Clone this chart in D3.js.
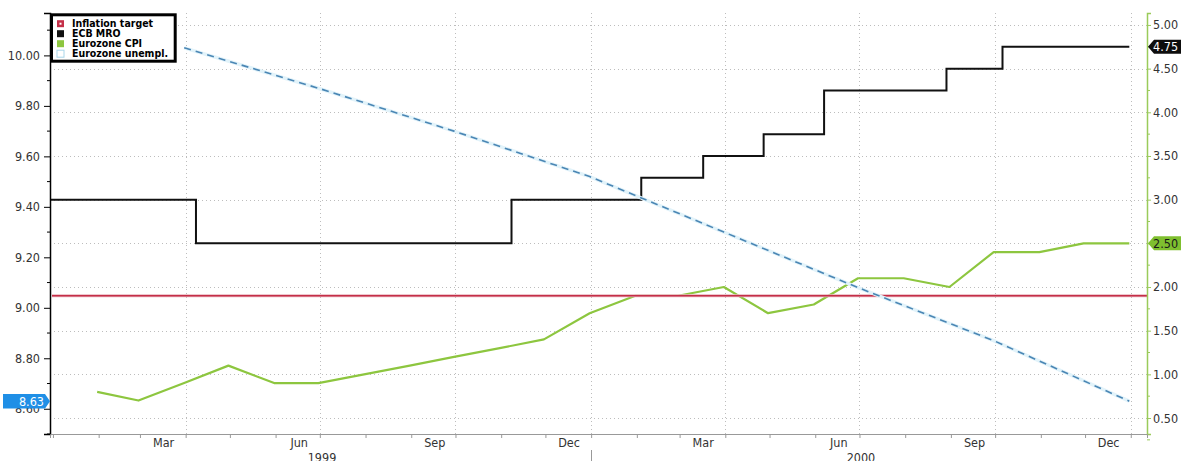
<!DOCTYPE html>
<html><head><meta charset="utf-8">
<script src="https://cdn.jsdelivr.net/npm/d3@7"></script>
<style>
html,body{margin:0;padding:0;background:#fff;overflow:hidden;}
svg{display:block;}
text{font-family:"DejaVu Sans Condensed","DejaVu Sans",sans-serif;font-stretch:condensed;}
</style></head><body>
<svg id="chart" width="1181" height="461"></svg>
<script>
// ---------------- DATA ----------------
const cpiDates = ["1999-01-31","1999-02-28","1999-03-31","1999-04-30","1999-05-31","1999-06-30",
  "1999-07-31","1999-08-31","1999-09-30","1999-10-31","1999-11-30","1999-12-31",
  "2000-01-31","2000-02-29","2000-03-31","2000-04-30","2000-05-31","2000-06-30",
  "2000-07-31","2000-08-31","2000-09-30","2000-10-31","2000-11-30","2000-12-31"];
const cpiValues = [0.8,0.7,0.9,1.1,0.9,0.9, 1.0,1.1,1.2,1.3,1.4,1.7,
  1.9,1.9,2.0,1.7,1.8,2.1, 2.1,2.0,2.4,2.4,2.5,2.5];

const mroDates = ["1998-12-30","1999-04-08","1999-11-08","2000-02-04","2000-03-17",
  "2000-04-27","2000-06-07","2000-08-29","2000-10-06","2000-12-31"];
const mroValues = [3.00,2.50,3.00,3.25,3.50,3.75,4.25,4.50,4.75,4.75];

const unemplDates = ["1999-03-31","1999-06-30","1999-09-30","1999-12-31",
  "2000-03-31","2000-06-30","2000-09-30","2000-12-31"];
const unemplValues = [10.03,9.87,9.70,9.52,9.30,9.08,8.87,8.63];

const inflationTarget = 1.9;

const leftTicks = [8.6,8.8,9.0,9.2,9.4,9.6,9.8,10.0];
const rightTicks = [0.5,1.0,1.5,2.0,2.5,3.0,3.5,4.0,4.5,5.0];
const monthLabels = ["Mar","Jun","Sep","Dec"];
const yearLabels = ["1999","2000"];
const legendLabels = ["Inflation target","ECB MRO","Eurozone CPI","Eurozone unempl."];
const seriesColors = {target:"#c42f48", mro:"#111111", cpi:"#8dc63f", unempl:"#4a86b4"};

// ---------------- SETUP ----------------
const parse = d3.timeParse("%Y-%m-%d");
const svg = d3.select("#chart");
const L = 50, R = 1147, T = 13, B = 434;

const x = d3.scaleTime().domain([parse("1998-12-30"), parse("2001-01-12")]).range([L, R]);
const yL = d3.scaleLinear().domain([8.5, 10.168]).range([B, T]);
const yR = d3.scaleLinear().domain([0.317, 5.137]).range([B, T]);

const cpi = cpiDates.map((d,i)=>({date:parse(d), v:cpiValues[i]}));
const mro = mroDates.map((d,i)=>({date:parse(d), v:mroValues[i]}));
const unempl = unemplDates.map((d,i)=>({date:parse(d), v:unemplValues[i]}));

// ---------------- GRID ----------------
const grid = svg.append("g");
grid.selectAll("line.h").data(rightTicks).enter().append("line")
  .attr("x1", L).attr("x2", R).attr("y1", d=>Math.round(yR(d))+0.5).attr("y2", d=>Math.round(yR(d))+0.5)
  .attr("stroke", "#bdbdbd").attr("stroke-width", 1).attr("stroke-dasharray", "1,3");
const quarters = d3.timeMonth.every(3).range(parse("1999-02-01"), x.domain()[1]);
grid.selectAll("line.v").data(quarters).enter().append("line")
  .attr("x1", d=>Math.round(x(d))+0.5).attr("x2", d=>Math.round(x(d))+0.5).attr("y1", T).attr("y2", B)
  .attr("stroke", "#bdbdbd").attr("stroke-width", 1).attr("stroke-dasharray", "1,3");

// ---------------- SERIES ----------------
const lineCpi = d3.line().x(d=>x(d.date)).y(d=>yR(d.v));
svg.append("path").datum(cpi).attr("d", lineCpi)
  .attr("fill","none").attr("stroke", seriesColors.cpi).attr("stroke-width", 2.2).attr("stroke-linejoin","round");

svg.append("line").attr("x1", x.range()[0]+2).attr("x2", x.range()[1])
  .attr("y1", yR(inflationTarget)).attr("y2", yR(inflationTarget))
  .attr("stroke", "#eab3bd").attr("stroke-width", 3);
svg.append("line").attr("x1", x.range()[0]+2).attr("x2", x.range()[1])
  .attr("y1", yR(inflationTarget)).attr("y2", yR(inflationTarget))
  .attr("stroke", seriesColors.target).attr("stroke-width", 1.5);

const lineMro = d3.line().x(d=>x(d.date)).y(d=>yR(d.v)).curve(d3.curveStepAfter);
svg.append("path").datum(mro).attr("d", lineMro)
  .attr("fill","none").attr("stroke", seriesColors.mro).attr("stroke-width", 2);

const lineU = d3.line().x(d=>x(d.date)).y(d=>yL(d.v));
svg.append("path").datum(unempl).attr("d", lineU)
  .attr("fill","none").attr("stroke", "#e2f3fa").attr("stroke-width", 3.5);
svg.append("path").datum(unempl).attr("d", lineU)
  .attr("fill","none").attr("stroke", seriesColors.unempl).attr("stroke-width", 1.6)
  .attr("stroke-dasharray","7,5");

// ---------------- AXES ----------------
const fmt = d3.format(".2f");
// left
const gl = svg.append("g").attr("transform", `translate(${L},0)`);
gl.call(d3.axisLeft(yL).tickValues(leftTicks).tickSize(6).tickPadding(4).tickFormat(fmt));
const leftMinor = leftTicks.map(t=>+(t+0.1).toFixed(2)).concat([8.5]);
gl.call(g=>g.selectAll(".minor").data(leftMinor).enter().append("line").attr("class","minor")
  .attr("x1",-3).attr("x2",0).attr("y1",d=>yL(d)).attr("y2",d=>yL(d)).attr("stroke","#000"));
gl.select(".domain").attr("stroke","#000").attr("stroke-width",1.5);
gl.selectAll(".tick line").attr("stroke","#000");
gl.selectAll(".tick text").attr("fill","#333").style("font-size","12.5px");

// right
const gr = svg.append("g").attr("transform", `translate(${R},0)`);
gr.call(d3.axisRight(yR).tickValues(rightTicks).tickSize(4).tickPadding(2).tickFormat(fmt));
const rightMinor = rightTicks.map(t=>t-0.25);
gr.call(g=>g.selectAll(".minor").data(rightMinor).enter().append("line").attr("class","minor")
  .attr("x1",0).attr("x2",3).attr("y1",d=>yR(d)).attr("y2",d=>yR(d)).attr("stroke","#9acb5a"));
gr.select(".domain").attr("stroke","#9acb5a").attr("stroke-width",1.5);
gr.selectAll(".tick line").attr("stroke","#9acb5a");
gr.selectAll(".tick text").attr("fill","#333").style("font-size","12.5px");

// bottom
const gb = svg.append("g").attr("transform", `translate(0,${B})`);
gb.call(d3.axisBottom(x).ticks(d3.timeMonth.every(1)).tickSize(4).tickFormat(""));
gb.select(".domain").attr("stroke","#999");
gb.selectAll(".tick line").attr("stroke","#999");

const months = d3.timeMonth.range(x.domain()[0], x.domain()[1])
  .filter(d=>monthLabels.includes(d3.timeFormat("%b")(d)));
svg.append("g").selectAll("text").data(months).enter().append("text")
  .attr("x", d=>x(new Date(d.getFullYear(), d.getMonth(), 17)))
  .attr("y", 447).attr("text-anchor","middle").attr("fill","#333").style("font-size","12.5px")
  .text(d=>d3.timeFormat("%b")(d));

const years = yearLabels.map(y=>{
  const s = Math.max(x(new Date(+y,0,1)), x.range()[0]);
  const e = Math.min(x(new Date(+y+1,0,1)), x.range()[1]);
  return {y, c:(s+e)/2};
});
svg.append("g").selectAll("text").data(years).enter().append("text")
  .attr("x", d=>d.c).attr("y", 462).attr("text-anchor","middle").attr("fill","#333")
  .style("font-size","12.5px").text(d=>d.y);
const yb = yearLabels.slice(1).map(y=>new Date(+y,0,1));
svg.append("g").selectAll("line").data(yb).enter().append("line")
  .attr("x1", d=>Math.round(x(d))+0.5).attr("x2", d=>Math.round(x(d))+0.5).attr("y1", 450).attr("y2", 461)
  .attr("stroke","#999");

// ---------------- VALUE BOXES ----------------
function rightBox(v, fill, txtColor){
  const cy = yR(v), h = 7, tip = R + 1;
  svg.append("path").attr("d", `M${tip},${cy} L${tip+6},${cy-h} L1181,${cy-h} L1181,${cy+h} L${tip+6},${cy+h} Z`)
    .attr("fill", fill);
  svg.append("text").attr("x", 1153).attr("y", cy+4.5).attr("fill", txtColor)
    .style("font-size","12.5px").text(fmt(v));
}
function leftBox(v, fill, txtColor){
  const cy = yL(v), h = 7.3, tip = L;
  svg.append("path").attr("d", `M3,${cy-h} L${tip-5},${cy-h} L${tip},${cy} L${tip-5},${cy+h} L3,${cy+h} Z`)
    .attr("fill", fill);
  svg.append("text").attr("x", 44).attr("y", cy+4.5).attr("text-anchor","end").attr("fill", txtColor)
    .style("font-size","12.5px").text(fmt(v));
}
rightBox(mroValues[mroValues.length-1], "#0d0d0d", "#fff");
rightBox(cpiValues[cpiValues.length-1], "#7fbf2f", "#1a1a1a");
leftBox(unemplValues[unemplValues.length-1], "#1f8fe6", "#fff");

// ---------------- LEGEND ----------------
const lg = svg.append("g");
lg.append("rect").attr("x",51.5).attr("y",14.8).attr("width",123.7).attr("height",46.4)
  .attr("fill","#fff").attr("stroke","#000").attr("stroke-width",3);
const items = lg.selectAll("g.item").data(legendLabels).enter().append("g")
  .attr("transform",(d,i)=>`translate(0,${23.7 + i*10})`);
items.append("rect").attr("x",57).attr("y",-3.5).attr("width",7).attr("height",7)
  .attr("fill",(d,i)=>[seriesColors.target, seriesColors.mro, seriesColors.cpi, "#fff"][i])
  .attr("stroke",(d,i)=>i===3?"#a9d6ea":"none").attr("stroke-width",1);
items.filter((d,i)=>i===0).append("rect").attr("x",59.5).attr("y",-1).attr("width",2).attr("height",2).attr("fill","#fff");
items.append("text").attr("x",72).attr("y",3.6).attr("fill","#000")
  .style("font-size","10.5px").style("font-weight","bold").text(d=>d);
</script>
</body></html>
